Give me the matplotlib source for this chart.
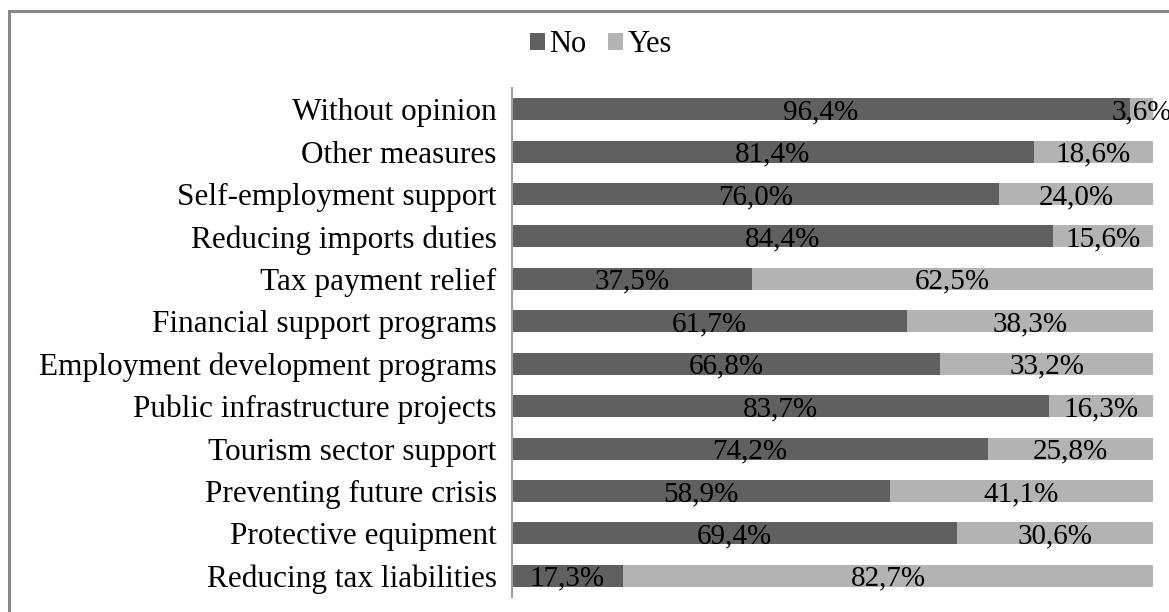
import matplotlib.pyplot as plt
from matplotlib.patches import Rectangle
import numpy as np

categories = [
    "Without opinion",
    "Other measures",
    "Self-employment support",
    "Reducing imports duties",
    "Tax payment relief",
    "Financial support programs",
    "Employment development programs",
    "Public infrastructure projects",
    "Tourism sector support",
    "Preventing future crisis",
    "Protective equipment",
    "Reducing tax liabilities",
]
no_share = [96.4, 81.4, 76.0, 84.4, 37.5, 61.7, 66.8, 83.7, 74.2, 58.9, 69.4, 17.3]
yes_share = [3.6, 18.6, 24.0, 15.6, 62.5, 38.3, 33.2, 16.3, 25.8, 41.1, 30.6, 82.7]

NO_COLOR = "#606060"
YES_COLOR = "#b3b3b3"

plt.rcParams["font.family"] = ["Liberation Serif", "DejaVu Serif"]

fig = plt.figure(figsize=(11.69, 6.12), dpi=100)
ax = fig.add_axes([512 / 1169, 1 - 597 / 612, (1153 - 512) / 1169, (597 - 88) / 612])

y = np.arange(len(categories))
no_bars = ax.barh(y, no_share, height=0.52, color=NO_COLOR, label="No")
yes_bars = ax.barh(y, yes_share, left=no_share, height=0.52, color=YES_COLOR, label="Yes")

def pct(v):
    return f"{v:.1f}%".replace(".", ",")

for i in range(len(categories)):
    ax.text(no_share[i] / 2, y[i] + 0.07, pct(no_share[i]),
            ha="center", va="center", fontsize=21, color="black")
    ax.text(no_share[i] + yes_share[i] / 2, y[i] + 0.07, pct(yes_share[i]),
            ha="center", va="center", fontsize=21, color="black", clip_on=False)

ax.set_xlim(0, 100)
ax.set_ylim(len(categories) - 0.5, -0.5)
ax.set_yticks(y)
ax.set_yticklabels(categories, fontsize=22.5)
ax.set_xticks([])
ax.tick_params(axis="y", length=0, pad=11)
for side in ["top", "right", "bottom"]:
    ax.spines[side].set_visible(False)
ax.spines["left"].set_color("#a0a0a0")
ax.spines["left"].set_linewidth(1.5)

fig.legend(handles=[no_bars, yes_bars], labels=["No", "Yes"],
           loc="center", bbox_to_anchor=(601 / 1169, 1 - 45 / 612),
           ncol=2, frameon=False, fontsize=22, handlelength=0.5, handleheight=0.5,
           handletextpad=0.15, columnspacing=0.7)

# outer frame of the chart area
fig.patches.append(Rectangle((9 / 1169, -0.05), 1.1, 1 - 11 / 612 + 0.05,
                             transform=fig.transFigure, fill=False,
                             edgecolor="#888888", linewidth=2.2))

fig.savefig("out.png", dpi=100)
